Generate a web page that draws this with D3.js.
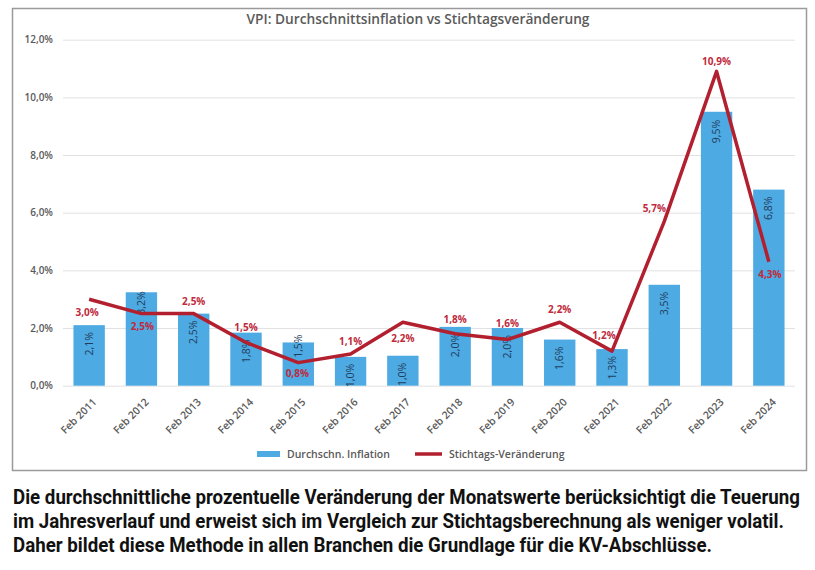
<!DOCTYPE html>
<html>
<head>
<meta charset="utf-8">
<script src="https://cdnjs.cloudflare.com/ajax/libs/d3/7.8.5/d3.min.js"></script>
<style>
  html, body { margin: 0; padding: 0; background: #fff; }
  svg { display: block; }
</style>
</head>
<body>
<div id="chart"></div>
<script>
// ---------------- DATA ----------------
const categories = ["Feb 2011","Feb 2012","Feb 2013","Feb 2014","Feb 2015","Feb 2016","Feb 2017",
                    "Feb 2018","Feb 2019","Feb 2020","Feb 2021","Feb 2022","Feb 2023","Feb 2024"];
const avgInflation = [2.1, 3.24, 2.5, 1.84, 1.5, 1.0, 1.04, 2.04, 2.0, 1.6, 1.27, 3.5, 9.5, 6.8];
const stichtag     = [3.0, 2.5, 2.5, 1.5, 0.8, 1.1, 2.2, 1.8, 1.6, 2.2, 1.2, 5.7, 10.9, 4.3];
const yTicks = [0, 2, 4, 6, 8, 10, 12];
const seriesNames = ["Durchschn. Inflation", "Stichtags-Veränderung"];
const title = "VPI: Durchschnittsinflation vs Stichtagsveränderung";
const caption = [
  "Die durchschnittliche prozentuelle Veränderung der Monatswerte berücksichtigt die Teuerung",
  "im Jahresverlauf und erweist sich im Vergleich zur Stichtagsberechnung als weniger volatil.",
  "Daher bildet diese Methode in allen Branchen die Grundlage für die KV-Abschlüsse."
];

// ---------------- LAYOUT / STYLE ----------------
const W = 815, H = 570;
const plot = { left: 63, right: 795, top: 39.7, bottom: 385.7 };
const barColor = "#4eaae2";
const lineColor = "#b2202f";
const lineLabelColor = "#c02a3c";
const barLabelColor = "#1f3d5c";
const axisTextColor = "#595959";
const uiFont = "'Open Sans', 'Noto Sans', sans-serif";
// label offsets for the line series (dx, dy relative to point)
const lineLabelOffset = [[-2,13],[1,13],[0,-12],[0,-15],[-1,11],[0,-12],[0,16],[0,-14],[0,-16],[0,-13],[-8,-16],[-10,-13],[0,-10],[1,13]];
// extra shift for bar labels (positive = further down from bar top)
const barLabelShift = [7,-1,7,7,-8,7,7,7,7,7,7,7,8,7];

const fmt = v => d3.format(".1f")(v).replace(".", ",") + "%";

const svg = d3.select("#chart").append("svg").attr("width", W).attr("height", H);

// chart frame
svg.append("rect").attr("x", 12.5).attr("y", 8.5).attr("width", 794).attr("height", 462)
  .attr("fill", "#fff").attr("stroke", "#9a9a9a").attr("stroke-width", 1.5);

const x = d3.scaleBand().domain(categories).range([plot.left, plot.right]).paddingInner(0.4).paddingOuter(0.2);
const y = d3.scaleLinear().domain([0, 12]).range([plot.bottom, plot.top]);

// title
const titleText = svg.append("text").attr("x", 418).attr("y", 24)
  .attr("text-anchor", "middle").attr("fill", "#5a5a5a")
  .attr("font-family", uiFont).attr("font-weight", 600).attr("font-size", 13)
  .text(title);
{
  const len = titleText.node().getComputedTextLength();
  titleText.attr("font-size", 13 * 343 / len);
}

// y axis (gridlines + labels)
const yAxis = d3.axisLeft(y).tickValues(yTicks).tickSize(-(plot.right - plot.left))
  .tickFormat(d => fmt(d)).tickPadding(10);
const yg = svg.append("g").attr("transform", `translate(${plot.left},0)`).call(yAxis);
yg.select(".domain").remove();
yg.selectAll(".tick line").attr("stroke", "#e2e2e2").attr("stroke-width", 1);
yg.selectAll(".tick text").attr("fill", axisTextColor).attr("font-family", uiFont)
  .attr("font-size", 10).attr("font-weight", 600);

// x axis labels
const xAxis = d3.axisBottom(x).tickSize(0).tickPadding(0);
const xg = svg.append("g").attr("transform", `translate(0,${plot.bottom})`).call(xAxis);
xg.select(".domain").remove();
xg.selectAll(".tick text")
  .attr("fill", axisTextColor).attr("font-family", uiFont).attr("font-size", 10.5).attr("font-weight", 600)
  .attr("text-anchor", "end").attr("dy", 0)
  .attr("transform", "translate(8,17) rotate(-45)");

// bars
svg.append("g").selectAll("rect").data(avgInflation).join("rect")
  .attr("x", (d, i) => x(categories[i]))
  .attr("width", x.bandwidth())
  .attr("y", d => y(d))
  .attr("height", d => y(0) - y(d))
  .attr("fill", barColor);

// bar labels
svg.append("g").selectAll("text").data(avgInflation).join("text")
  .attr("transform", (d, i) => `translate(${x(categories[i]) + x.bandwidth() / 2 + 3.5},${y(d) + barLabelShift[i]}) rotate(-90)`)
  .attr("text-anchor", "end")
  .attr("fill", barLabelColor).attr("font-family", uiFont).attr("font-size", 10.5)
  .text(d => fmt(d));

// line
const line = d3.line().x((d, i) => x(categories[i]) + x.bandwidth() / 2).y(d => y(d));
svg.append("path").datum(stichtag).attr("d", line)
  .attr("fill", "none").attr("stroke", lineColor).attr("stroke-width", 3.5)
  .attr("stroke-linejoin", "round").attr("stroke-linecap", "butt");

// line labels
svg.append("g").selectAll("text").data(stichtag).join("text")
  .attr("x", (d, i) => x(categories[i]) + x.bandwidth() / 2 + lineLabelOffset[i][0])
  .attr("y", (d, i) => y(d) + lineLabelOffset[i][1])
  .attr("dy", "0.35em")
  .attr("text-anchor", "middle")
  .attr("fill", lineLabelColor).attr("font-family", uiFont).attr("font-size", 10).attr("font-weight", 700)
  .text(d => fmt(d));

// legend
const lg = svg.append("g").attr("font-family", uiFont).attr("font-size", 10.5).attr("font-weight", 600).attr("fill", axisTextColor);
lg.append("rect").attr("x", 257).attr("y", 451).attr("width", 23).attr("height", 6).attr("fill", barColor);
lg.append("text").attr("x", 287).attr("y", 454).attr("dy", "0.35em").text(seriesNames[0]);
lg.append("line").attr("x1", 415).attr("x2", 442).attr("y1", 454).attr("y2", 454)
  .attr("stroke", lineColor).attr("stroke-width", 3.5);
lg.append("text").attr("x", 449).attr("y", 454).attr("dy", "0.35em").text(seriesNames[1]);

// caption (condensed look: larger font squeezed horizontally)
const capFont = "Roboto, 'Noto Sans', sans-serif";
const capSize = 20;
const cap = svg.append("g").attr("font-family", capFont).attr("font-weight", 700).attr("fill", "#111");
const capLines = cap.selectAll("text").data(caption).join("text")
  .attr("x", 0).attr("y", 0)
  .attr("font-size", capSize)
  .text(d => d);
{
  const len = capLines.nodes()[0].getComputedTextLength();
  const sx = 787 / len;
  capLines.attr("transform", (d, i) => `translate(13,${504 + i * 24}) scale(${sx},1)`);
}
</script>
</body>
</html>
